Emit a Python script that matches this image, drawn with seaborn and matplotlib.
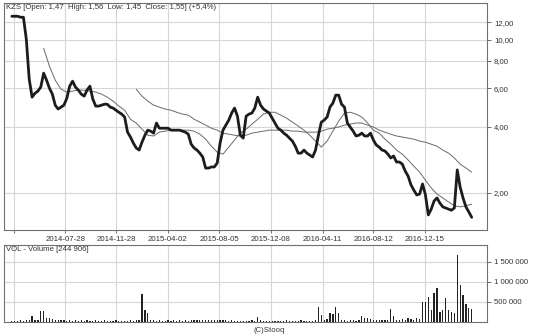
import numpy as np
import pandas as pd
import matplotlib
matplotlib.use('Agg')
import matplotlib.pyplot as plt
import matplotlib.ticker as mticker
import seaborn as sns

# ---------------- data ----------------
week_start = '2014-03-21'   # weekly samples

close = [12.79, 12.79, 12.79, 12.66, 12.66, 10.05, 6.61, 5.47, 5.70, 5.83,
         6.08, 7.04, 6.54, 6.01, 5.65, 5.03, 4.83, 4.93, 5.03, 5.41,
         6.14, 6.47, 6.08, 5.89, 5.65, 5.53, 5.89, 6.14, 5.36, 4.98,
         4.98, 5.03, 5.08, 5.08, 4.93, 4.88, 4.77, 4.67, 4.58, 4.44,
         3.79, 3.60, 3.38, 3.21, 3.14, 3.41, 3.67, 3.87, 3.83, 3.75,
         4.17, 3.95, 3.95, 3.95, 3.95, 3.87, 3.87, 3.87, 3.87, 3.83,
         3.79, 3.71, 3.34, 3.21, 3.14, 3.04, 2.92, 2.60, 2.60, 2.63,
         2.63, 2.74, 3.38, 3.87, 4.08, 4.30, 4.63, 4.88, 4.48, 3.67,
         3.56, 4.48, 4.58, 4.63, 4.88, 5.47, 5.03, 4.83, 4.73, 4.63,
         4.39, 4.17, 3.95, 3.87, 3.75, 3.67, 3.56, 3.45, 3.27, 3.04,
         3.04, 3.14, 3.04, 2.98, 2.92, 3.14, 3.67, 4.21, 4.30, 4.44,
         4.93, 5.14, 5.59, 5.59, 5.08, 4.93, 4.17, 4.00, 3.83, 3.64,
         3.67, 3.75, 3.64, 3.64, 3.75, 3.49, 3.31, 3.24, 3.14, 3.11,
         3.01, 2.89, 2.95, 2.77, 2.77, 2.71, 2.52, 2.39, 2.18, 2.06,
         1.96, 1.98, 2.20, 1.96, 1.59, 1.69, 1.84, 1.90, 1.80, 1.73,
         1.71, 1.69, 1.67, 1.71, 2.55, 2.13, 1.90, 1.73, 1.64, 1.55]

# moving average 50 (every second week, from week 11)
ma50 = [9.14, 7.57, 6.54, 5.95, 5.77, 5.83, 5.89, 5.89, 5.83, 5.77,
        5.65, 5.47, 5.25, 4.98, 4.77, 4.34, 4.17, 3.91, 3.67, 3.64,
        3.79, 3.83, 3.87, 3.87, 3.87, 3.87, 3.83, 3.71, 3.52, 3.27,
        3.07, 3.01, 3.24, 3.49, 3.75, 3.91, 4.12, 4.34, 4.58, 4.67,
        4.67, 4.53, 4.39, 4.21, 4.04, 3.87, 3.67, 3.45, 3.24, 3.45,
        3.83, 4.25, 4.63, 4.67, 4.58, 4.44, 4.17, 3.87, 3.75, 3.52,
        3.34, 3.14, 3.01, 2.83, 2.65, 2.49, 2.29, 2.11, 1.98, 1.90,
        1.82, 1.75, 1.73, 1.75, 1.78]

# moving average 200 (every second week, from week 43)
ma200 = [5.95, 5.53, 5.25, 5.03, 4.93, 4.83, 4.77, 4.67, 4.58, 4.53,
         4.34, 4.21, 4.08, 3.95, 3.87, 3.75, 3.71, 3.67, 3.64, 3.67,
         3.75, 3.79, 3.83, 3.87, 3.87, 3.87, 3.87, 3.83, 3.83, 3.79,
         3.79, 3.79, 3.83, 3.91, 3.95, 4.00, 4.08, 4.12, 4.17, 4.17,
         4.08, 4.00, 3.87, 3.79, 3.71, 3.64, 3.60, 3.56, 3.52, 3.45,
         3.41, 3.34, 3.27, 3.14, 3.04, 2.89, 2.71, 2.60, 2.49]

volume = [20e3, 30e3, 25e3, 40e3, 30e3, 60e3, 50e3, 150e3, 40e3, 60e3,
          275e3, 270e3, 110e3, 90e3, 70e3, 60e3, 50e3, 40e3, 45e3, 30e3,
          50e3, 35e3, 40e3, 25e3, 45e3, 30e3, 50e3, 20e3, 35e3, 40e3,
          25e3, 30e3, 45e3, 20e3, 30e3, 25e3, 40e3, 20e3, 30e3, 35e3,
          25e3, 40e3, 30e3, 45e3, 60e3, 700e3, 300e3, 220e3, 60e3, 40e3,
          35e3, 50e3, 30e3, 25e3, 40e3, 30e3, 45e3, 30e3, 50e3, 35e3,
          40e3, 30e3, 55e3, 45e3, 60e3, 40e3, 50e3, 45e3, 60e3, 55e3,
          50e3, 40e3, 60e3, 45e3, 50e3, 30e3, 40e3, 25e3, 30e3, 20e3,
          30e3, 25e3, 35e3, 40e3, 30e3, 120e3, 40e3, 30e3, 25e3, 35e3,
          20e3, 30e3, 25e3, 20e3, 30e3, 40e3, 25e3, 30e3, 35e3, 30e3,
          40e3, 30e3, 25e3, 35e3, 30e3, 40e3, 375e3, 175e3, 60e3, 80e3,
          225e3, 200e3, 375e3, 225e3, 60e3, 40e3, 30e3, 50e3, 40e3, 30e3,
          40e3, 150e3, 110e3, 100e3, 80e3, 50e3, 40e3, 60e3, 50e3, 40e3,
          50e3, 325e3, 150e3, 60e3, 50e3, 70e3, 60e3, 100e3, 80e3, 60e3,
          100e3, 80e3, 500e3, 500e3, 625e3, 300e3, 725e3, 850e3, 250e3, 300e3,
          600e3, 300e3, 250e3, 230e3, 1675e3, 925e3, 675e3, 450e3, 350e3, 325e3]

tick_dates = ['2014-03-25', '2014-07-28', '2014-11-28', '2015-04-02', '2015-08-05',
              '2015-12-08', '2016-04-11', '2016-08-12', '2016-12-15']
tick_labels = ['', '2014-07-28', '2014-11-28', '2015-04-02', '2015-08-05',
               '2015-12-08', '2016-04-11', '2016-08-12', '2016-12-15']
price_ticks = [2, 4, 6, 8, 10, 12]
vol_ticks = [500000, 1000000, 1500000]

title_main = 'KZS [Open: 1,47  High: 1,56  Low: 1,45  Close: 1,55] (+5,4%)'
title_vol = 'VOL - Volume [244 906]'
credit = '(C)Stooq'

# ---------------- frames ----------------
dates = pd.date_range(week_start, periods=len(close), freq='7D')
df = pd.DataFrame({'date': dates, 'close': close, 'volume': volume})
ma50_df = pd.DataFrame({'date': dates[11::2], 'ma': ma50})
ma200_df = pd.DataFrame({'date': dates[43::2], 'ma': ma200})

sns.set_style('white')
plt.rcParams['font.family'] = ['Liberation Sans', 'DejaVu Sans']

W, H = 536, 335
fig = plt.figure(figsize=(W / 100, H / 100), dpi=100)
ax = fig.add_axes([4 / W, 1 - 230 / H, 483 / W, 227 / H])
axv = fig.add_axes([4 / W, 1 - 322 / H, 483 / W, 77 / H], sharex=ax)

grid_c = '#d6d6d6'
txt_c = '#333333'
fs = 5.6

# price panel
sns.lineplot(data=ma200_df, x='date', y='ma', ax=ax, color='#6a6a6a', lw=0.7)
sns.lineplot(data=ma50_df, x='date', y='ma', ax=ax, color='#6a6a6a', lw=0.7)
sns.lineplot(data=df, x='date', y='close', ax=ax, color='#1c1c1c', lw=2.0)
ax.set_yscale('log')
ax.set_ylim(1.357, 14.7)
ax.set_xlim(pd.Timestamp('2014-03-02'), pd.Timestamp('2017-05-14'))
ax.yaxis.tick_right()
ax.set_yticks(price_ticks)
ax.yaxis.set_minor_locator(mticker.NullLocator())
ax.yaxis.set_major_formatter(mticker.FuncFormatter(lambda v, p: f'{v:.2f}'.replace('.', ',')))
ax.set_xticks(pd.to_datetime(tick_dates))
ax.set_xticklabels(tick_labels)
ax.xaxis.set_minor_locator(mticker.NullLocator())
ax.tick_params(axis='y', right=True, length=3, width=0.6, color='#555', labelsize=fs,
               labelcolor=txt_c, pad=2)
ax.tick_params(axis='x', bottom=True, length=2, width=0.6, color='#555', labelsize=fs,
               labelcolor=txt_c, pad=2)
ax.grid(True, color=grid_c, lw=0.8)
ax.set_xlabel('')
ax.set_ylabel('')
ax.text(0.004, 0.995, title_main, transform=ax.transAxes, ha='left', va='top',
        fontsize=fs, color=txt_c)

# volume panel
axv.bar(df['date'], df['volume'], width=3, color='#222222', linewidth=0)
axv.set_ylim(0, 1.925e6)
axv.yaxis.tick_right()
axv.set_yticks(vol_ticks)
axv.yaxis.set_major_formatter(mticker.FuncFormatter(lambda v, p: f'{int(v):,}'.replace(',', ' ')))
axv.tick_params(axis='y', right=True, length=3, width=0.6, color='#555', labelsize=fs,
                labelcolor=txt_c, pad=2)
axv.tick_params(axis='x', bottom=False, labelbottom=False)
axv.grid(True, color=grid_c, lw=0.8)
axv.set_xlabel('')
axv.set_ylabel('')
axv.text(0.004, 0.985, title_vol, transform=axv.transAxes, ha='left', va='top',
         fontsize=fs, color=txt_c)

for a in (ax, axv):
    for s in a.spines.values():
        s.set_color('#707070')
        s.set_linewidth(0.8)

fig.text(269.5 / W, 1 - 330 / H, credit, ha='center', va='center', fontsize=fs, color=txt_c)

fig.savefig('out.png', dpi=100)
